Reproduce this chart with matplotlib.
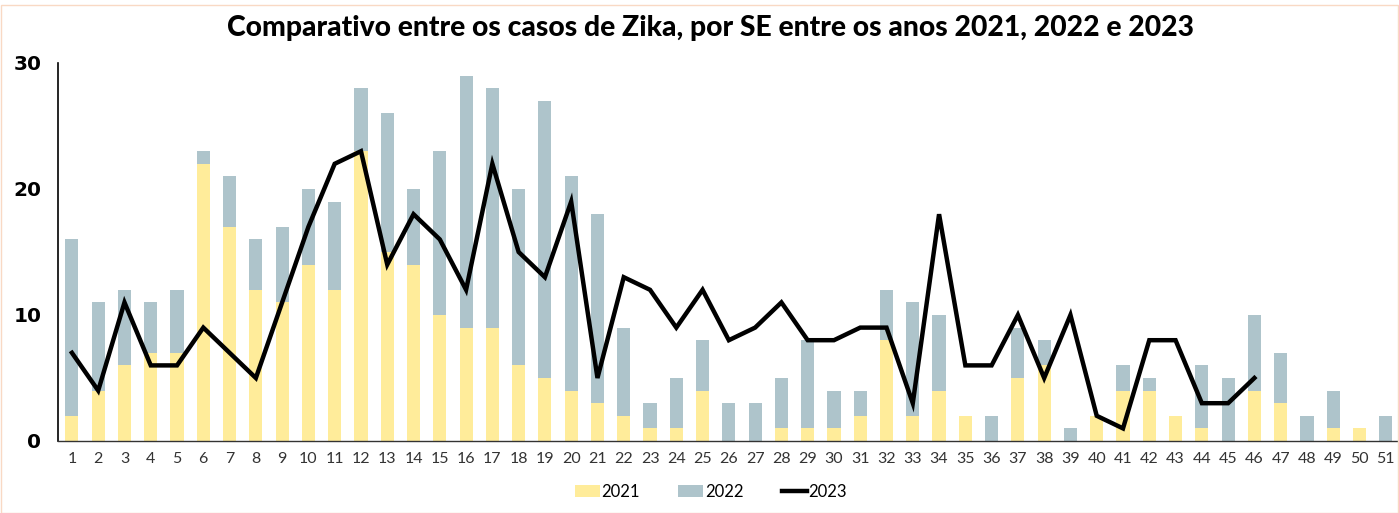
import numpy as np
import matplotlib
matplotlib.use("Agg")
import matplotlib.pyplot as plt
from matplotlib.patches import Rectangle

# Semanas epidemiológicas
weeks = list(range(1, 52))

# casos de 2021 (parte amarela da barra)
cases_2021 = [2, 4, 6, 7, 7, 22, 17, 12, 11, 14,
              12, 23, 15, 14, 10, 9, 9, 6, 5, 4,
              3, 2, 1, 1, 4, 0, 0, 1, 1, 1,
              2, 8, 2, 4, 2, 0, 5, 6, 0, 2,
              4, 4, 2, 1, 0, 4, 3, 0, 1, 1, 0]

# casos de 2022 (empilhados sobre 2021)
cases_2022 = [14, 7, 6, 4, 5, 1, 4, 4, 6, 6,
              7, 5, 11, 6, 13, 20, 19, 14, 22, 17,
              15, 7, 2, 4, 4, 3, 3, 4, 7, 3,
              2, 4, 9, 6, 0, 2, 4, 2, 1, 0,
              2, 1, 0, 5, 5, 6, 4, 2, 3, 0, 2]

# casos de 2023 (linha, até a SE 46)
weeks_2023 = list(range(1, 47))
cases_2023 = [7, 4, 11, 6, 6, 9, 7, 5, 11, 17,
              22, 23, 14, 18, 16, 12, 22, 15, 13, 19,
              5, 13, 12, 9, 12, 8, 9, 11, 8, 8,
              9, 9, 3, 18, 6, 6, 10, 5, 10, 2,
              1, 8, 8, 3, 3, 5]

color_2021 = "#FFEC9A"
color_2022 = "#AEC4CB"

fig = plt.figure(figsize=(13.99, 5.13), dpi=100)
ax = fig.add_axes([58 / 1399, 1 - 441 / 513, 1 - 58 / 1399 - 0.001, (441 - 63) / 513])

b1 = ax.bar(weeks, cases_2021, width=0.5, color=color_2021, label="2021", zorder=1)
b2 = ax.bar(weeks, cases_2022, width=0.5, bottom=cases_2021, color=color_2022, label="2022", zorder=1)
l3, = ax.plot(weeks_2023, cases_2023, color="black", linewidth=3.2, solid_joinstyle="miter",
              label="2023", zorder=3)

ax.set_xlim(0.47, 51.45)
ax.set_ylim(0, 30)
ax.set_yticks([0, 10, 20, 30])
ax.set_xticks(weeks)
ax.set_xticklabels([str(w) for w in weeks], fontsize=11.5, color="#333333", family="Lato")
for lbl in ax.get_yticklabels():
    lbl.set_fontsize(14.5)
    lbl.set_fontweight("bold")
    lbl.set_family("DejaVu Sans")
ax.tick_params(axis="both", length=0)
ax.tick_params(axis="y", pad=12)
ax.tick_params(axis="x", pad=8)

for side in ["top", "right"]:
    ax.spines[side].set_visible(False)
ax.spines["left"].set_linewidth(1.2)
ax.spines["bottom"].set_linewidth(1.0)
ax.spines["bottom"].set_color("#333333")

fig.suptitle("Comparativo entre os casos de Zika, por SE entre os anos 2021, 2022 e 2023",
             x=0.508, y=0.97, fontsize=20.3, fontweight="black", family="Lato")

leg = fig.legend(handles=[b1, b2, l3], labels=["2021", "2022", "2023"],
                 loc="center", bbox_to_anchor=(0.508, 0.041), ncol=3, frameon=False,
                 handlelength=1.5, handletextpad=0.1, columnspacing=2.3,
                 prop={"family": "Lato", "size": 12})

# fine peach border around the figure
fig.patches.append(Rectangle((0.001, 0.0), 0.998, 0.99, transform=fig.transFigure,
                             fill=False, edgecolor="#F9D9C4", linewidth=1))

fig.savefig("out.png", dpi=100)
